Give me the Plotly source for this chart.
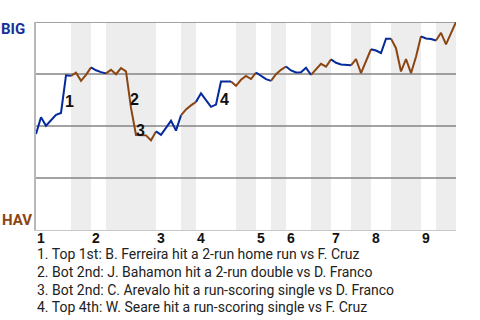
import plotly.graph_objects as go

# Win probability for BIG after each plate appearance (index 0..84)
win_prob = [
    0.462, 0.542, 0.501, 0.527, 0.554, 0.563, 0.744, 0.741, 0.756, 0.717,
    0.746, 0.782, 0.768, 0.759, 0.753, 0.770, 0.749, 0.778, 0.763, 0.587,
    0.457, 0.457, 0.455, 0.431, 0.474, 0.457, 0.491, 0.525, 0.478, 0.551,
    0.580, 0.599, 0.616, 0.657, 0.624, 0.592, 0.603, 0.714, 0.714, 0.714,
    0.693, 0.722, 0.741, 0.726, 0.757, 0.739, 0.725, 0.717, 0.749, 0.770,
    0.786, 0.767, 0.757, 0.758, 0.780, 0.746, 0.775, 0.799, 0.785, 0.820,
    0.804, 0.796, 0.794, 0.792, 0.822, 0.754, 0.811, 0.869, 0.863, 0.851,
    0.920, 0.920, 0.874, 0.762, 0.822, 0.754, 0.833, 0.931, 0.921, 0.918,
    0.911, 0.948, 0.892, 0.948, 1.000,
]

# Half-inning boundaries (plate appearance index)
top_start = [0, 11, 24, 32, 44, 50, 59, 67, 77]
bot_line_start = [7, 14, 29, 39, 47, 55, 63, 71, 80]
bot_shade_start = [7, 14, 29, 40, 47, 55, 63, 71, 80]
bot_end = [11, 24, 32, 44, 50, 59, 67, 77, 84]
inning_labels = ["1", "2", "3", "4", "5", "6", "7", "8", "9"]

# Key events
event_labels = ["1", "2", "3", "4"]
event_label_x = [6.7, 19.7, 20.8, 37.7]
event_label_y = [0.618, 0.626, 0.477, 0.626]
event_notes = [
    "1. Top 1st: B. Ferreira hit a 2-run home run vs F. Cruz",
    "2. Bot 2nd: J. Bahamon hit a 2-run double vs D. Franco",
    "3. Bot 2nd: C. Arevalo hit a run-scoring single vs D. Franco",
    "4. Top 4th: W. Seare hit a run-scoring single vs F. Cruz",
]

grid_levels = [0.25, 0.5, 0.75, 1.0]

BLUE = "#042a9c"
BROWN = "#8b4513"

fig = go.Figure()

# line segments, coloured by batting team
for i in range(len(top_start)):
    a, b = top_start[i], bot_line_start[i]
    xs = list(range(a, b + 1))
    fig.add_trace(go.Scatter(x=xs, y=[win_prob[k] for k in xs], mode="lines",
                             line=dict(color=BLUE, width=2), hoverinfo="skip",
                             showlegend=False))
    a, b = bot_line_start[i], bot_end[i]
    xs = list(range(a, b + 1))
    fig.add_trace(go.Scatter(x=xs, y=[win_prob[k] for k in xs], mode="lines",
                             line=dict(color=BROWN, width=2), hoverinfo="skip",
                             showlegend=False))

shapes = []
for s, e in zip(bot_shade_start, bot_end):
    shapes.append(dict(type="rect", xref="x", yref="paper", x0=s, x1=e, y0=0, y1=1,
                       fillcolor="#ededed", line=dict(width=0), layer="below"))
for g in grid_levels:
    shapes.append(dict(type="line", xref="paper", yref="y", x0=0, x1=1, y0=g, y1=g,
                       line=dict(color="#858585", width=1.5), layer="below"))

annotations = []
for t, x, y in zip(event_labels, event_label_x, event_label_y):
    annotations.append(dict(x=x, y=y, xref="x", yref="y", text="<b>" + t + "</b>",
                            showarrow=False, xanchor="center", yanchor="middle",
                            font=dict(family="Liberation Sans", size=16, color="#111")))
for t, x in zip(inning_labels, top_start):
    annotations.append(dict(x=x, y=0, xref="x", yref="paper", text="<b>" + t + "</b>",
                            showarrow=False, xanchor="left", yanchor="middle", yshift=-8,
                            xshift=-1,
                            font=dict(family="Liberation Sans", size=14, color="#111")))
for i, t in enumerate(event_notes):
    annotations.append(dict(x=0, y=0, xref="paper", yref="paper", text=t,
                            showarrow=False, xanchor="left", yanchor="middle",
                            xshift=-1, yshift=-24.3 - 17.7 * i,
                            font=dict(family="Roboto", size=14, color="#222")))
annotations.append(dict(x=0, y=1, xref="paper", yref="paper", text="<b>BIG</b>",
                        showarrow=False, xanchor="right", yanchor="middle",
                        xshift=-9, yshift=-7,
                        font=dict(family="Roboto", size=15, color="#14309a")))
annotations.append(dict(x=0, y=0, xref="paper", yref="paper", text="<b>HAV</b>",
                        showarrow=False, xanchor="right", yanchor="middle",
                        xshift=-2, yshift=10,
                        font=dict(family="Roboto", size=15, color=BROWN)))

fig.update_layout(
    width=480, height=320,
    margin=dict(l=36, r=24, t=22, b=90),
    paper_bgcolor="white", plot_bgcolor="white",
    shapes=shapes, annotations=annotations,
    xaxis=dict(range=[0, 84], showgrid=False, zeroline=False, showticklabels=False,
               showline=True, linecolor="#c8c8c8", linewidth=1, ticks=""),
    yaxis=dict(range=[0, 1], showgrid=False, zeroline=False, showticklabels=False,
               showline=True, linecolor="#b8b8b8", linewidth=1.5, ticks=""),
)

fig.write_html("out.html", config={"displayModeBar": False})
